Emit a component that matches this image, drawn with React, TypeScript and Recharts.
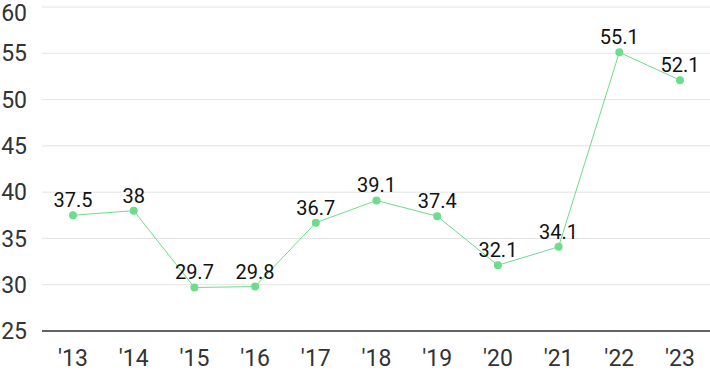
import { LineChart, Line, XAxis, YAxis, CartesianGrid, LabelList } from "recharts";

const years = ["'13", "'14", "'15", "'16", "'17", "'18", "'19", "'20", "'21", "'22", "'23"];
const values = [37.5, 38, 29.7, 29.8, 36.7, 39.1, 37.4, 32.1, 34.1, 55.1, 52.1];
const yTicks = [25, 30, 35, 40, 45, 50, 55, 60];

const data = years.map((year, i) => ({ year, value: values[i] }));

const green = "#6ddc8d";
const font = "Roboto, 'Noto Sans', sans-serif";

export default function App() {
  return (
    <div style={{ width: 710, height: 371, fontFamily: font }}>
      <style>{"body{margin:0}"}</style>
      <LineChart width={710} height={371} data={data} margin={{ top: 7, right: 0, bottom: 0, left: 0 }}>
        <CartesianGrid vertical={false} stroke="#e4e4e4" />
        <XAxis
          dataKey="year"
          height={40}
          padding={{ left: 31, right: 30 }}
          axisLine={{ stroke: "#333", strokeWidth: 1.5 }}
          tickLine={false}
          tickMargin={13}
          tick={{ fontSize: 23, fill: "#333", fontFamily: font }}
          interval={0}
        />
        <YAxis
          domain={[25, 60]}
          ticks={yTicks}
          width={42}
          axisLine={false}
          tickLine={false}
          tickMargin={9}
          tick={{ fontSize: 23, fill: "#333", fontFamily: font }}
        />
        <Line
          dataKey="value"
          type="linear"
          stroke={green}
          strokeWidth={1}
          dot={{ r: 4, fill: green, stroke: "none" }}
          activeDot={false}
          isAnimationActive={false}
        >
          <LabelList dataKey="value" position="top" offset={8} fill="#111" fontSize={20} fontFamily={font} />
        </Line>
      </LineChart>
    </div>
  );
}
